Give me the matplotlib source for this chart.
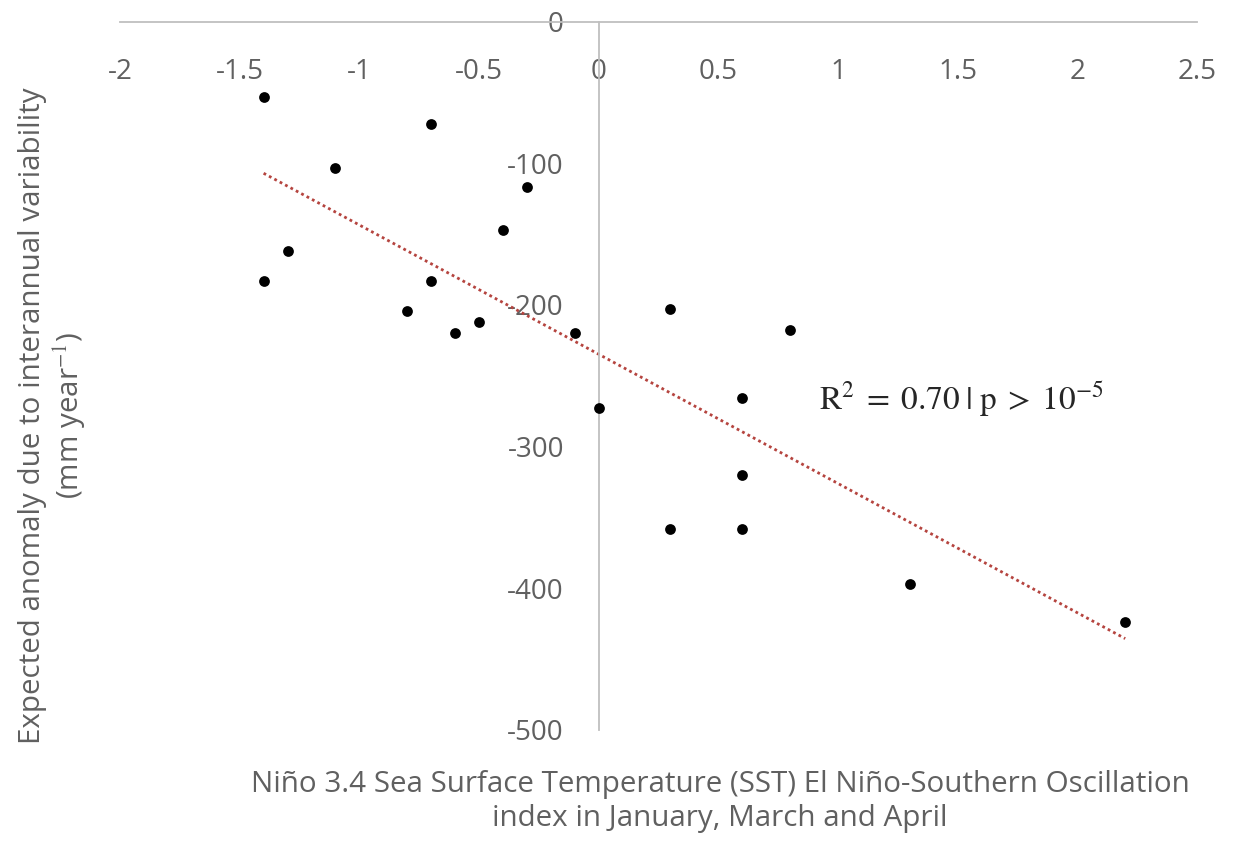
import numpy as np
import matplotlib
matplotlib.use("Agg")
import matplotlib.pyplot as plt

# Data
nino_index = [-1.4, -0.7, -1.1, -0.3, -0.4, -1.3, -1.4, -0.7, -0.8, -0.6, -0.5,
              -0.1, 0.3, 0.8, 0.6, 0.0, 0.6, 0.3, 0.6, 1.3, 2.2]
anomaly = [-53, -72, -103, -117, -147, -162, -183, -183, -204, -220, -212,
           -220, -203, -218, -266, -273, -320, -358, -358, -397, -424]
x_ticks = [-2, -1.5, -1, -0.5, 0, 0.5, 1, 1.5, 2, 2.5]
x_tick_labels = ["-2", "-1.5", "-1", "-0.5", "0", "0.5", "1", "1.5", "2", "2.5"]
y_ticks = [0, -100, -200, -300, -400, -500]
y_tick_labels = ["0", "-100", "-200", "-300", "-400", "-500"]
annotation = r"$\mathrm{R}^2\;=\;0.70\;$|$\;\mathrm{p}\;>\;10^{-5}$"

plt.rcParams['font.family'] = ['Open Sans', 'DejaVu Sans']
plt.rcParams['mathtext.fontset'] = 'stix'

fig = plt.figure(figsize=(12.35, 8.41), dpi=100)
ax = fig.add_axes([120/1235, 1-730/841, (1197-120)/1235, (730-21.6)/841])

grey = '#BFBFBF'
tick_col = '#606060'

ax.scatter(nino_index, anomaly, s=60, color='black', zorder=3, linewidths=0)

# linear trend
xs = np.array(nino_index, dtype=float)
ys = np.array(anomaly, dtype=float)
m, b = np.polyfit(xs, ys, 1)
xl = np.array([xs.min(), xs.max()])
ax.plot(xl, m*xl + b, linestyle=(0, (1, 1.2)), color='#B5443F', linewidth=2.0, zorder=2)

ax.set_xlim(-2, 2.5)
ax.set_ylim(-500, 0)
ax.set_xticks(x_ticks)
ax.set_xticklabels(x_tick_labels)
ax.set_yticks(y_ticks)
ax.set_yticklabels(y_tick_labels)

ax.spines['right'].set_visible(False)
ax.spines['top'].set_visible(False)
ax.spines['bottom'].set_position(('data', 0))
ax.spines['left'].set_position(('data', 0))
for s in ('bottom', 'left'):
    ax.spines[s].set_color(grey)
    ax.spines[s].set_linewidth(1.3)

ax.tick_params(axis='x', length=0, pad=26, labelsize=20, labelcolor=tick_col)
ax.tick_params(axis='y', length=0, pad=25, labelsize=20, labelcolor=tick_col)

ax.text(0.92, -267, annotation, fontsize=24, color='#262626', va='center', ha='left',
        family=['STIXGeneral', 'DejaVu Serif'])

fig.text(0.583, 0.047,
         "Niño 3.4 Sea Surface Temperature (SST) El Niño-Southern Oscillation\nindex in January, March and April",
         ha='center', va='center', fontsize=21.3, color=tick_col, linespacing=1.2)
fig.text(0.043, 0.506,
         "Expected anomaly due to interannual variability\n(mm year$^{-1}$)",
         ha='center', va='center', rotation=90, fontsize=21.3, color=tick_col, linespacing=1.2)

fig.savefig("out.png", dpi=100)
